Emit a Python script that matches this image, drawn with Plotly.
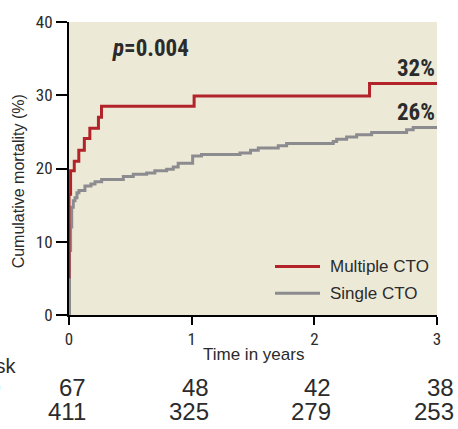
import plotly.graph_objects as go

# ---- data ----
multiple_t = [0, 0, 0.013, 0.043, 0.08, 0.125, 0.17, 0.24, 0.265, 1.02, 2.45, 3.0]
multiple_y = [5.0, 16.5, 19.7, 21.0, 22.5, 24.1, 25.5, 27.0, 28.5, 29.9, 31.6, 31.6]

single_t = [0, 0.004, 0.013, 0.022, 0.035, 0.049, 0.065, 0.081, 0.13, 0.179, 0.212,
            0.266, 0.443, 0.524, 0.633, 0.70, 0.796, 0.85, 0.89, 1.008, 1.08, 1.394,
            1.48, 1.543, 1.706, 1.774, 2.154, 2.182, 2.263, 2.345, 2.467, 2.752, 2.806, 3.0]
single_y = [0, 8.8, 12.0, 14.7, 15.6, 16.0, 16.7, 17.0, 17.6, 17.9, 18.2,
            18.5, 18.9, 19.2, 19.4, 19.7, 19.9, 20.2, 20.7, 21.7, 21.9, 22.1,
            22.5, 22.8, 23.1, 23.4, 23.7, 24.0, 24.3, 24.6, 24.9, 25.3, 25.6, 25.6]

series_names = ["Multiple CTO", "Single CTO"]
end_labels = ["32%", "26%"]
p_label = "<i>p</i>=0.004"

risk_times = [0, 1, 2, 3]
risk_multiple = [67, 48, 42, 38]
risk_single = [411, 325, 279, 253]

x_ticks = [0, 1, 2, 3]
y_ticks = [0, 10, 20, 30, 40]

RED = "#B3232A"
GRAY = "#8C8C90"
BG = "#ECE9D7"
TXT = "#2b2b2b"
NARROW = "Liberation Sans Narrow, Roboto Condensed, DejaVu Sans Condensed, Arial Narrow, sans-serif"
SANS = "Liberation Sans, Arial, Helvetica, sans-serif"

fig = go.Figure()
fig.add_trace(go.Scatter(x=single_t, y=single_y, mode="lines", line_shape="hv",
                         line=dict(color=GRAY, width=3), name=series_names[1],
                         showlegend=False))
fig.add_trace(go.Scatter(x=multiple_t, y=multiple_y, mode="lines", line_shape="hv",
                         line=dict(color=RED, width=3), name=series_names[0],
                         showlegend=False))

L, R, T, B = 69, 21, 19, 114
W, H = 458, 429
pw, ph = W - L - R, H - T - B


def px_x(px):
    return (px - L) / pw


def px_y(py):
    return (H - B - py) / ph


annotations = []
# p value
annotations.append(dict(x=px_x(110), y=px_y(46), xref="paper", yref="paper",
                        text=f"<b>{p_label}</b>", showarrow=False, xanchor="left",
                        yanchor="middle", font=dict(family=NARROW, size=23, color=TXT)))
# end labels
for lab, py in zip(end_labels, [66, 110]):
    annotations.append(dict(x=1, y=px_y(py), xref="paper", yref="paper",
                            text=f"<b>{lab}</b>", showarrow=False, xanchor="right",
                            yanchor="middle", font=dict(family=NARROW, size=23, color=TXT)))
# legend (manual)
shapes = []
for name, col, py in zip(series_names, [RED, GRAY], [266, 293]):
    shapes.append(dict(type="line", xref="paper", yref="paper",
                       x0=px_x(275), x1=px_x(320), y0=px_y(py), y1=px_y(py),
                       line=dict(color=col, width=3)))
    annotations.append(dict(x=px_x(328), y=px_y(py), xref="paper", yref="paper",
                            text=name, showarrow=False, xanchor="left", yanchor="middle",
                            font=dict(family=SANS, size=17, color=TXT)))
# axis titles
annotations.append(dict(x=px_x(253), y=px_y(355), xref="paper", yref="paper",
                        text="Time in years", showarrow=False, xanchor="center",
                        yanchor="middle", font=dict(family=SANS, size=17, color=TXT)))
annotations.append(dict(x=px_x(18), y=px_y(180), xref="paper", yref="paper",
                        text="Cumulative mortality (%)", showarrow=False, textangle=-90,
                        xanchor="center", yanchor="middle",
                        font=dict(family=SANS, size=16, color=TXT)))
# numbers at risk
annotations.append(dict(x=px_x(19), y=px_y(367), xref="paper", yref="paper",
                        text="At risk", showarrow=False, xanchor="right", yanchor="middle",
                        font=dict(family=SANS, size=20, color=TXT)))
for name, py in zip(series_names, [388, 412]):
    annotations.append(dict(x=px_x(3 if py == 388 else -2), y=px_y(py), xref="paper",
                            yref="paper", text=name, showarrow=False, xanchor="right",
                            yanchor="middle", font=dict(family=SANS, size=22, color=TXT)))
for vals, py in zip([risk_multiple, risk_single], [388, 412]):
    for t, v in zip(risk_times, vals):
        annotations.append(dict(x=t, y=px_y(py), xref="x", yref="paper", text=str(v),
                                showarrow=False, xanchor="right", yanchor="middle",
                                xshift=19, font=dict(family=SANS, size=24, color=TXT)))

fig.update_layout(
    width=W, height=H,
    margin=dict(l=L, r=R, t=T, b=B),
    paper_bgcolor="white",
    plot_bgcolor=BG,
    showlegend=False,
    shapes=shapes,
    annotations=annotations,
    xaxis=dict(range=[0, 3], tickvals=x_ticks, ticks="outside", ticklen=8,
               tickwidth=1.5, tickcolor="black", showline=True, linecolor="black",
               linewidth=2, showgrid=False, zeroline=False,
               tickfont=dict(family=NARROW, size=17, color=TXT)),
    yaxis=dict(range=[0, 40], tickvals=y_ticks, ticks="outside", ticklen=11,
               tickwidth=1.5, tickcolor="black", showline=True, linecolor="black",
               linewidth=2, showgrid=False, zeroline=False,
               tickfont=dict(family=NARROW, size=17, color=TXT)),
)

fig.write_html("out.html", config={"displayModeBar": False},
               post_script="document.body.style.margin='0';document.body.style.overflow='hidden';")
